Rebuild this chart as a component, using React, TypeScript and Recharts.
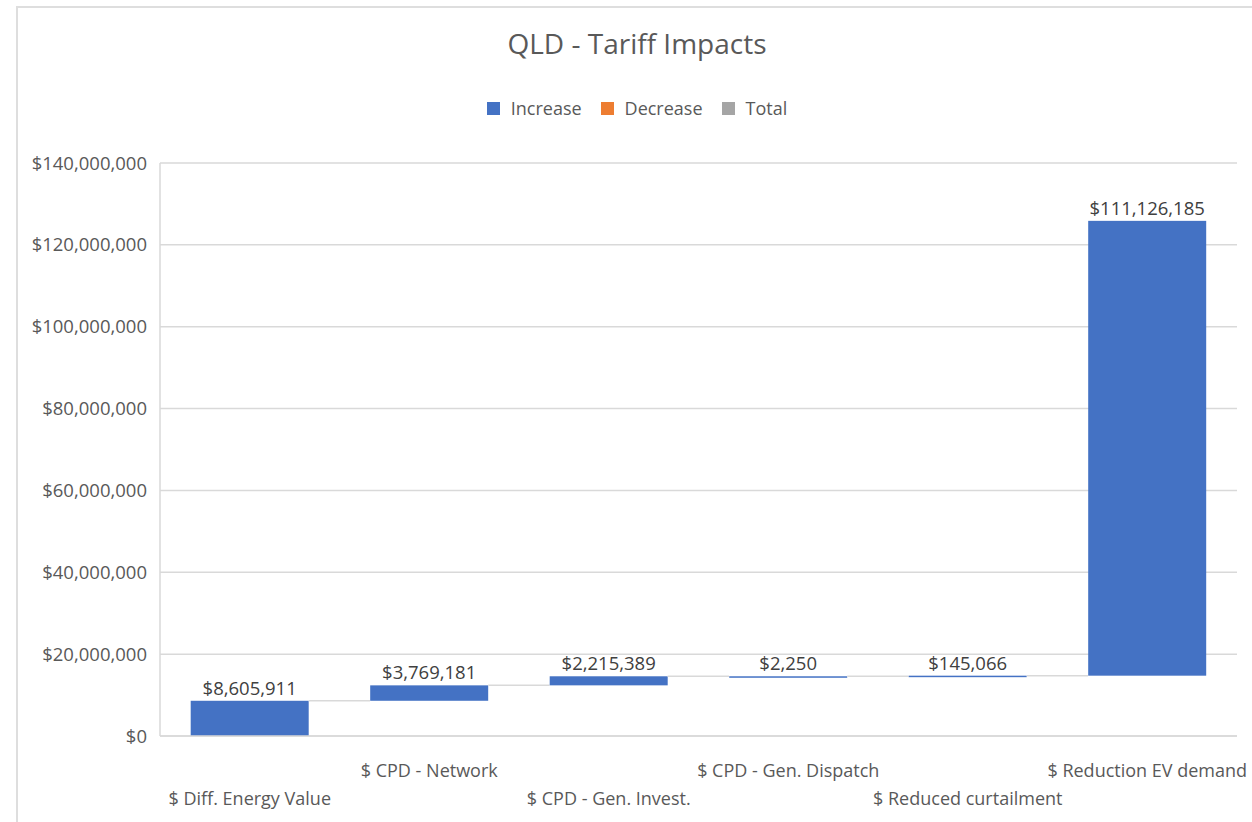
import React from 'react';
import { BarChart, Bar, XAxis, YAxis, CartesianGrid, LabelList } from 'recharts';

const categories = [
  '$ Diff. Energy Value',
  '$ CPD - Network',
  '$ CPD - Gen. Invest.',
  '$ CPD - Gen. Dispatch',
  '$ Reduced curtailment',
  '$ Reduction EV demand',
];
const increases = [8605911, 3769181, 2215389, 2250, 145066, 111126185];
const yTicks = [0, 20000000, 40000000, 60000000, 80000000, 100000000, 120000000, 140000000];
const legendItems = [
  { name: 'Increase', color: '#4472C4' },
  { name: 'Decrease', color: '#ED7D31' },
  { name: 'Total', color: '#A5A5A5' },
];

const GAP = 0.171; // barCategoryGap per side
const FONT = '"Open Sans", sans-serif';
const TEXT = '#595959';

let running = 0;
const data = categories.map((name, i) => {
  const base = running;
  running += increases[i];
  return { name, base, value: increases[i] };
});

const money = (v: number) => '$' + v.toLocaleString('en-US');

function StepBar(props: any) {
  const { x, y, width, height, index, fill } = props;
  const gap = (width * 2 * GAP) / (1 - 2 * GAP);
  return (
    <g>
      <rect x={x} y={y} width={width} height={Math.max(height, 1.5)} fill={fill} />
      {index < data.length - 1 && (
        <line x1={x + width} x2={x + width + gap} y1={y} y2={y} stroke="#d9d9d9" strokeWidth={1.5} />
      )}
    </g>
  );
}

function CatTick(props: any) {
  const { x, y, payload, index } = props;
  const dy = index % 2 === 0 ? 61 : 33;
  return (
    <text x={x} y={y + dy} textAnchor="middle" fill={TEXT} fontSize={18} fontFamily={FONT}>
      {payload.value}
    </text>
  );
}

function TopLegend() {
  return (
    <div
      style={{
        position: 'absolute',
        top: 96,
        width: 1252,
        display: 'flex',
        justifyContent: 'center',
        gap: 19,
        fontFamily: FONT,
        fontSize: 18,
        color: TEXT,
        paddingLeft: 22,
        boxSizing: 'border-box',
      }}
    >
      {legendItems.map((it) => (
        <span key={it.name} style={{ display: 'flex', alignItems: 'center' }}>
          <span style={{ width: 13, height: 13, background: it.color, marginRight: 11, display: 'inline-block' }} />
          {it.name}
        </span>
      ))}
    </div>
  );
}

export default function App() {
  return (
    <div style={{ position: 'fixed', left: 0, top: 0, width: 1252, height: 822, background: '#fff' }}>
      <div
        style={{
          position: 'absolute',
          left: 16,
          top: 6,
          right: -4,
          bottom: -4,
          borderLeft: '2px solid #dedede',
          borderTop: '2px solid #dedede',
        }}
      />
      <div
        style={{
          position: 'absolute',
          top: 24,
          width: 1252,
          paddingLeft: 22,
          boxSizing: 'border-box',
          textAlign: 'center',
          fontFamily: FONT,
          fontSize: 28,
          color: TEXT,
        }}
      >
        QLD - Tariff Impacts
      </div>
      <TopLegend />
      <BarChart
        width={1252}
        height={822}
        data={data}
        margin={{ top: 163, right: 15, bottom: 6, left: 0 }}
        barCategoryGap={`${GAP * 100}%`}
      >
        <CartesianGrid vertical={false} stroke="#d9d9d9" strokeWidth={1.5} />
        <XAxis
          dataKey="name"
          height={80}
          axisLine={{ stroke: '#d9d9d9', strokeWidth: 1.5 }}
          tickLine={false}
          interval={0}
          tick={<CatTick />}
        />
        <YAxis
          width={160}
          domain={[0, 140000000]}
          ticks={yTicks}
          tickFormatter={money}
          axisLine={{ stroke: '#d9d9d9', strokeWidth: 1.5 }}
          tickLine={false}
          tickMargin={7}
          tick={{ fill: TEXT, fontSize: 18.5, fontFamily: FONT }}
        />
        <Bar dataKey="base" stackId="w" fill="transparent" legendType="none" isAnimationActive={false} />
        <Bar dataKey="value" stackId="w" name="Increase" fill="#4472C4" shape={<StepBar />} isAnimationActive={false}>
          <LabelList
            dataKey="value"
            position="top"
            offset={6}
            formatter={(v: any) => money(Number(v))}
            fill="#404040"
            fontSize={18.5}
            fontFamily={FONT}
          />
        </Bar>
      </BarChart>
    </div>
  );
}
